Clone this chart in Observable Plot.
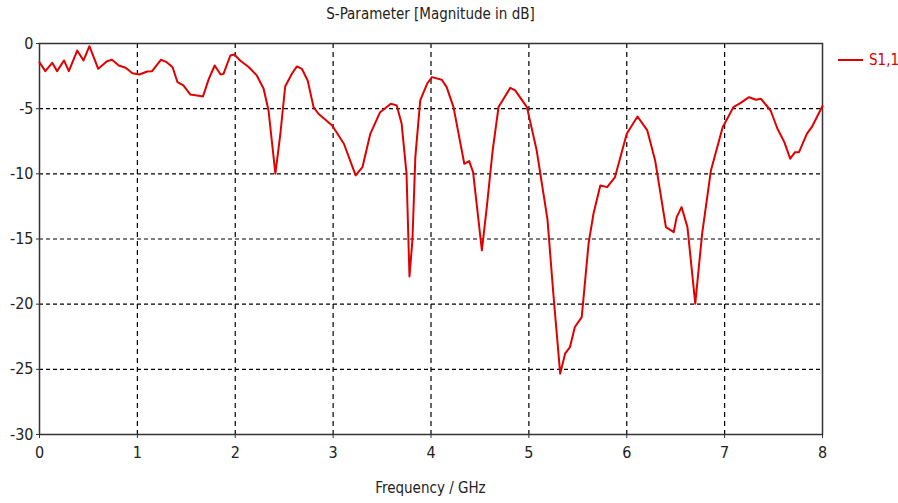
<!DOCTYPE html>
<html>
<head>
<meta charset="utf-8">
<script src="https://cdn.jsdelivr.net/npm/d3@7"></script>
<script src="https://cdn.jsdelivr.net/npm/@observablehq/plot@0.6"></script>
<style>
  html, body { margin: 0; padding: 0; background: #fff; }
  #chart { position: relative; width: 898px; height: 503px; font-family: "DejaVu Sans Condensed", "DejaVu Sans", sans-serif; color: #222; }
  .title { position: absolute; left: 39px; width: 783px; top: 5px; text-align: center; font-size: 15px; }
  .xlabel { position: absolute; left: 39px; width: 783px; top: 479px; text-align: center; font-size: 15px; }
  .legend { position: absolute; left: 838px; top: 51px; display: flex; align-items: center; color: #d40000; font-size: 15px; }
  .legend .swatch { width: 25px; height: 2px; background: #e00000; margin-right: 6px; }
  #plot { position: absolute; left: 0; top: 30px; }
</style>
</head>
<body>
<div id="chart">
  <div class="title">S-Parameter [Magnitude in dB]</div>
  <div id="plot"></div>
  <div class="xlabel">Frequency / GHz</div>
  <div class="legend"><span class="swatch"></span><span>S1,1</span></div>
</div>
<script>
// Frequency sweep (GHz) and reflection coefficient S1,1 (dB)
const freq = [
  0.00, 0.06, 0.13, 0.18, 0.25, 0.30, 0.385, 0.45, 0.51, 0.60,
  0.69, 0.74, 0.81, 0.88, 0.95, 1.02, 1.10, 1.15, 1.24, 1.30,
  1.36, 1.41, 1.47, 1.54, 1.61, 1.67, 1.73, 1.79, 1.85, 1.88,
  1.95, 1.99, 2.05, 2.14, 2.22, 2.29, 2.34, 2.41, 2.46, 2.51,
  2.58, 2.63, 2.68, 2.74, 2.80, 2.85, 2.99, 3.11, 3.23, 3.30,
  3.38, 3.48, 3.59, 3.65, 3.70, 3.75, 3.78, 3.81, 3.84, 3.89,
  3.96, 4.01, 4.11, 4.16, 4.23, 4.34, 4.39, 4.43, 4.52, 4.57,
  4.63, 4.69, 4.81, 4.86, 4.98, 5.08, 5.19, 5.25, 5.32, 5.37,
  5.42, 5.47, 5.54, 5.61, 5.66, 5.73, 5.80, 5.88, 6.00, 6.11,
  6.21, 6.29, 6.40, 6.48, 6.51, 6.56, 6.62, 6.70, 6.77, 6.86,
  6.98, 7.09, 7.16, 7.25, 7.32, 7.37, 7.47, 7.54, 7.61, 7.67,
  7.72, 7.76, 7.84, 7.89, 8.00
];
const s11 = [
  -1.45, -2.12, -1.48, -2.12, -1.30, -2.12, -0.54, -1.30, -0.21, -1.94,
  -1.36, -1.25, -1.69, -1.86, -2.28, -2.38, -2.15, -2.12, -1.25, -1.43,
  -1.82, -2.97, -3.22, -3.91, -3.99, -4.06, -2.71, -1.69, -2.38, -2.33,
  -0.92, -0.84, -1.30, -1.82, -2.45, -3.47, -5.14, -9.99, -7.00, -3.30,
  -2.30, -1.76, -1.94, -2.84, -4.88, -5.39, -6.29, -7.69, -10.12, -9.48,
  -6.93, -5.27, -4.62, -4.75, -6.16, -9.99, -17.87, -15.11, -8.72, -4.37,
  -3.09, -2.58, -2.78, -3.35, -4.88, -9.23, -9.02, -9.87, -15.87, -12.55,
  -8.21, -4.88, -3.40, -3.60, -4.88, -8.21, -13.50, -19.20, -25.33, -23.80,
  -23.29, -21.75, -20.99, -15.36, -13.06, -10.89, -11.02, -10.25, -6.93, -5.60,
  -6.67, -8.97, -14.09, -14.47, -13.32, -12.55, -14.09, -19.96, -14.60, -9.74,
  -6.42, -4.88, -4.58, -4.12, -4.32, -4.24, -5.14, -6.54, -7.57, -8.84,
  -8.34, -8.34, -6.93, -6.42, -4.80
];
const xTicks = [0, 1, 2, 3, 4, 5, 6, 7, 8];
const yTicks = [0, -5, -10, -15, -20, -25, -30];

const data = freq.map((f, i) => ({f, db: s11[i]}));
// Plain hyphen for negative numbers
const fmt = d => String(d);

const chart = Plot.plot({
  width: 898,
  height: 440,
  marginTop: 13,
  marginLeft: 39,
  marginRight: 76,
  marginBottom: 36,
  style: {fontFamily: "'DejaVu Sans Condensed', 'DejaVu Sans', sans-serif", fontSize: "16px", color: "#222", background: "#fff"},
  x: {domain: [0, 8]},
  y: {domain: [-30, 0]},
  marks: [
    Plot.gridX(xTicks.slice(1, -1), {stroke: "#000", strokeOpacity: 1, strokeWidth: 1.2, strokeDasharray: "5,4"}),
    Plot.gridY(yTicks.slice(1, -1), {stroke: "#000", strokeOpacity: 1, strokeWidth: 1.2, strokeDasharray: "4,3"}),
    Plot.frame({stroke: "#333", strokeWidth: 1.5}),
    Plot.axisX(xTicks, {tickSize: 4, tickPadding: 8, tickFormat: fmt, label: null, stroke: "#333"}),
    Plot.axisY(yTicks, {tickSize: 3, tickPadding: 3, tickFormat: fmt, label: null, stroke: "#333"}),
    Plot.line(data, {x: "f", y: "db", stroke: "#e00000", strokeWidth: 2, curve: "linear"})
  ]
});
document.getElementById("plot").appendChild(chart);
</script>
</body>
</html>
